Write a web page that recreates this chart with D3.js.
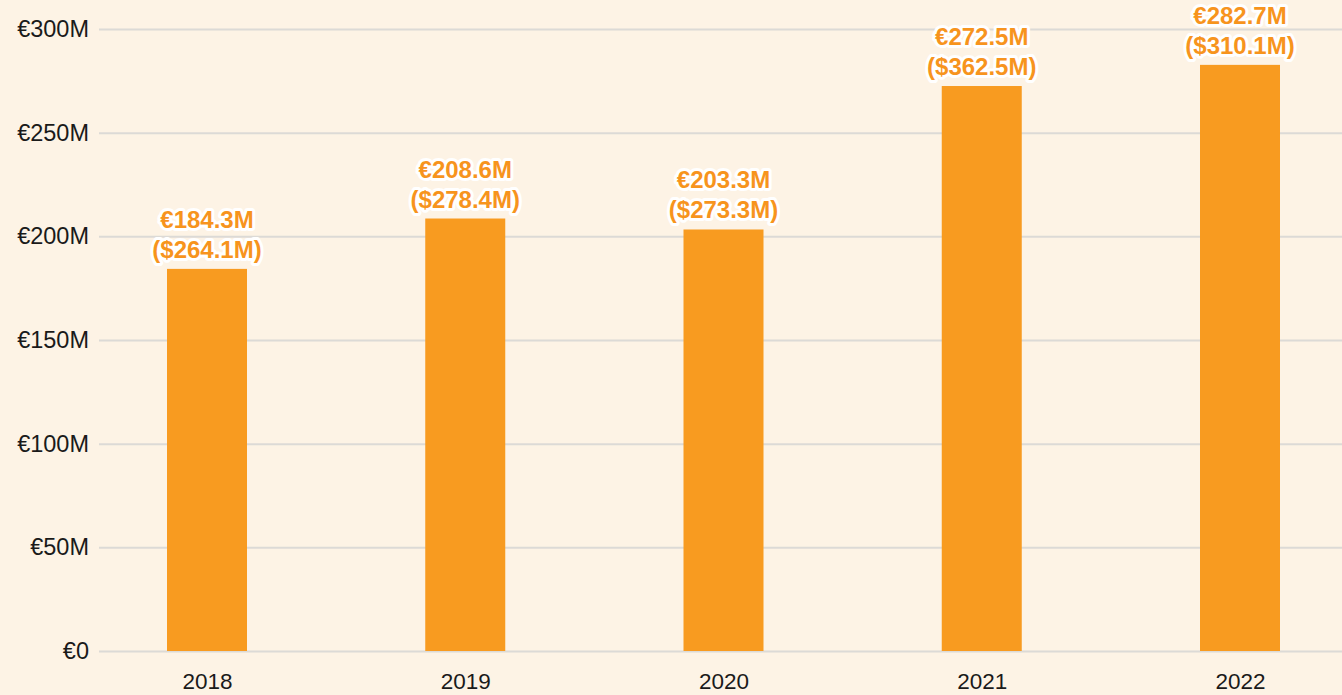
<!DOCTYPE html>
<html>
<head>
<meta charset="utf-8">
<script src="https://cdn.jsdelivr.net/npm/d3@7"></script>
<style>
    body { margin: 0; background: #fdf3e5; }
    svg { display: block; }
    .tick text { font-family: "Liberation Sans", Arial, sans-serif; fill: #1a1a1a; }
    .label { font-family: "Liberation Sans", Arial, sans-serif; font-weight: bold; fill: #f7941d;
             stroke: #fff; stroke-width: 6px; paint-order: stroke; stroke-linejoin: round; }
</style>
</head>
<body>
<div id="wrapper"></div>
<script>
// данные
const years = ["2018", "2019", "2020", "2021", "2022"];
const eurValues = [184.3, 208.6, 203.3, 272.5, 282.7];
const usdValues = [264.1, 278.4, 273.3, 362.5, 310.1];
const yTicks = [0, 50, 100, 150, 200, 250, 300];

function build() {
    var dimension = {
        width: 1342,
        height: 695,
        margin: { top: 29, right: 0, bottom: 44, left: 99 }
    };

    const wrapper = d3.select("#wrapper")
        .append("svg")
        .attr("width", dimension.width)
        .attr("height", dimension.height);

    const y = d3.scaleLinear()
        .domain([0, 300])
        .range([dimension.height - dimension.margin.bottom, dimension.margin.top]);

    const x = d3.scalePoint()
        .domain(years)
        .range([207, 1240]);

    const barWidth = 80;

    // сетка и подписи оси Y
    const yAxis = wrapper.append("g")
        .attr("transform", `translate(${dimension.margin.left},0)`)
        .call(d3.axisLeft(y)
            .tickValues(yTicks)
            .tickSize(0)
            .tickPadding(10)
            .tickFormat(d => d === 0 ? "€0" : "€" + d + "M"));
    yAxis.select(".domain").remove();
    yAxis.selectAll(".tick text").style("font-size", "23.5px");
    yAxis.selectAll(".tick line")
        .attr("x2", dimension.width - dimension.margin.left)
        .attr("stroke", "#dcdad6")
        .attr("stroke-width", 2);

    // столбцы
    wrapper.append("g")
        .selectAll("rect")
        .data(years)
        .enter()
        .append("rect")
        .attr("x", d => x(d) - barWidth / 2)
        .attr("width", barWidth)
        .attr("y", (d, i) => y(eurValues[i]))
        .attr("height", (d, i) => y(0) - y(eurValues[i]))
        .attr("fill", "#f89b20");

    // ось X
    const xAxis = wrapper.append("g")
        .attr("transform", `translate(0,${y(0)})`)
        .call(d3.axisBottom(x).tickSize(0).tickPadding(22));
    xAxis.select(".domain").remove();
    xAxis.selectAll(".tick text").style("font-size", "22.5px");

    // подписи значений
    const labels = wrapper.append("g")
        .selectAll("text")
        .data(years)
        .enter()
        .append("text")
        .attr("class", "label")
        .attr("text-anchor", "middle")
        .style("font-size", "24px")
        .attr("x", d => x(d))
        .attr("y", (d, i) => y(eurValues[i]) - 41);
    labels.append("tspan")
        .attr("x", d => x(d))
        .text((d, i) => "€" + eurValues[i].toFixed(1) + "M");
    labels.append("tspan")
        .attr("x", d => x(d))
        .attr("dy", 30)
        .text((d, i) => "($" + usdValues[i].toFixed(1) + "M)");
}

build();
</script>
</body>
</html>
